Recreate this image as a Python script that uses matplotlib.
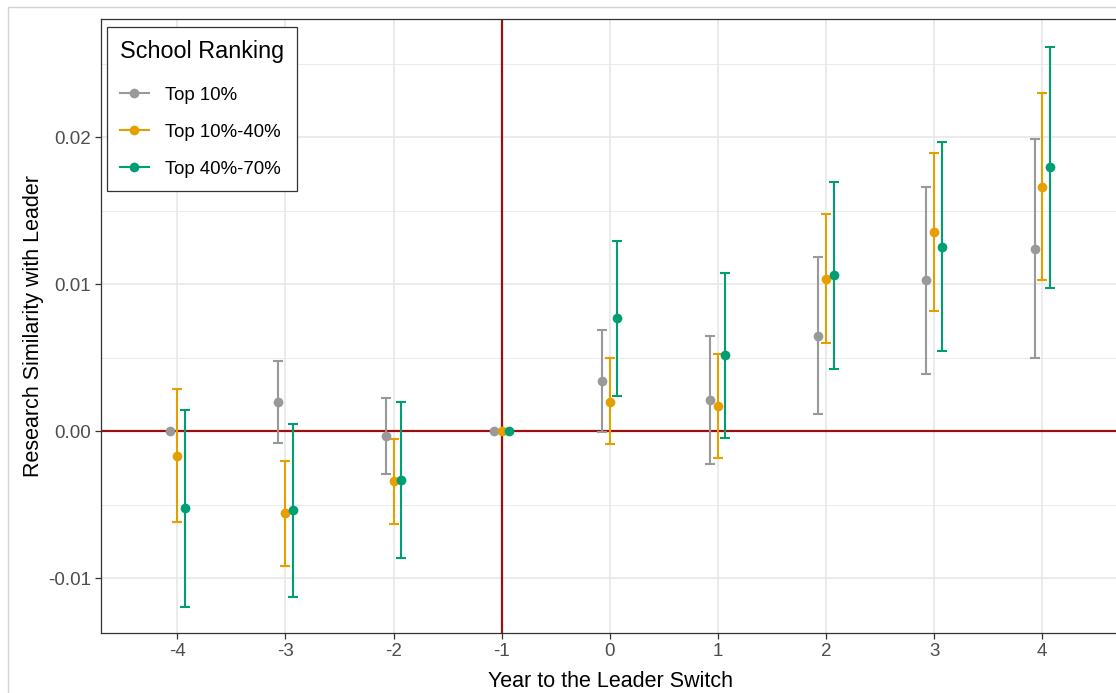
import matplotlib
matplotlib.use("Agg")
import matplotlib.pyplot as plt
from matplotlib.lines import Line2D
from matplotlib.patches import Rectangle
import numpy as np

plt.rcParams['font.family'] = ['Liberation Sans', 'DejaVu Sans']
plt.rcParams['axes.unicode_minus'] = False

years = [-4, -3, -2, -1, 0, 1, 2, 3, 4]
groups = ["Top 10%", "Top 10%-40%", "Top 40%-70%"]
colors = ["#999999", "#E69F00", "#009E73"]

est_top10 = [0.0, 0.00195, -0.00032, 0.0, 0.00338, 0.00209, 0.00648, 0.01025, 0.0124]
lo_top10 = [0.0, -0.00082, -0.0029, 0.0, -0.0001, -0.00227, 0.00113, 0.00388, 0.00494]
hi_top10 = [0.0, 0.00476, 0.00227, 0.0, 0.00687, 0.00646, 0.01186, 0.01662, 0.01988]

est_top40 = [-0.00168, -0.0056, -0.00342, 0.0, 0.0020, 0.0017, 0.01036, 0.01354, 0.01662]
lo_top40 = [-0.00619, -0.00916, -0.00633, 0.0, -0.00088, -0.00186, 0.0060, 0.00818, 0.01027]
hi_top40 = [0.00284, -0.00202, -0.00052, 0.0, 0.00494, 0.00526, 0.01476, 0.0189, 0.02297]

est_top70 = [-0.00526, -0.0054, -0.00333, 0.0, 0.00767, 0.00515, 0.01059, 0.01252, 0.01794]
lo_top70 = [-0.01197, -0.01129, -0.00862, 0.0, 0.0024, -0.00048, 0.00422, 0.00542, 0.00971]
hi_top70 = [0.00141, 0.0005, 0.00195, 0.0, 0.0129, 0.01075, 0.01696, 0.01966, 0.02614]

series = [(est_top10, lo_top10, hi_top10),
          (est_top40, lo_top40, hi_top40),
          (est_top70, lo_top70, hi_top70)]
offsets = [-0.07, 0.0, 0.07]

W, H = 1116, 693
fig = plt.figure(figsize=(W / 100, H / 100), dpi=100)
fig.patch.set_facecolor("white")
# light screenshot border
fig.add_artist(Rectangle((8 / W, -0.1), 1.2, 1 - 7 / H + 0.1, transform=fig.transFigure,
                         fill=False, edgecolor="#d4d4d4", lw=1.0))

ax = fig.add_axes([101 / W, (H - 633) / H, (1120 - 101) / W, (633 - 19) / H])
ax.set_facecolor("white")

ax.set_xlim(-4.706, 4.72)
ax.set_ylim(-0.01374, 0.02803)

# grid
ax.set_xticks(years)
ax.set_yticks([-0.01, 0.0, 0.01, 0.02])
ax.set_yticklabels(["-0.01", "0.00", "0.01", "0.02"])
ax.set_yticks([-0.005, 0.005, 0.015, 0.025], minor=True)
ax.grid(True, which="major", color="#E8E8E8", lw=1.2, zorder=0)
ax.grid(True, which="minor", axis="y", color="#EBEBEB", lw=0.7, zorder=0)
ax.set_axisbelow(True)

for (est, lo, hi), off, c in zip(series, offsets, colors):
    xs = np.array(years) + off
    est = np.array(est); lo = np.array(lo); hi = np.array(hi)
    mask = (hi - lo) > 0
    ax.errorbar(xs[mask], est[mask], yerr=[est[mask] - lo[mask], hi[mask] - est[mask]],
                fmt="none", ecolor=c, elinewidth=1.5, capsize=3.8, capthick=1.5, zorder=3)
    ax.plot(xs, est, "o", color=c, markersize=7.0, markeredgewidth=0, zorder=4)

ax.axhline(0, color="#9B0F0F", lw=1.6, zorder=2)
ax.axvline(-1, color="#9B0F0F", lw=1.6, zorder=2)

for s in ["left", "bottom", "top"]:
    ax.spines[s].set_color("#333333")
    ax.spines[s].set_linewidth(0.9)
ax.spines["right"].set_visible(False)

ax.tick_params(axis="both", which="major", length=4, width=0.9, color="#333333",
               labelsize=13.5, labelcolor="#4D4D4D", pad=3)
ax.tick_params(axis="both", which="minor", length=0)

ax.set_xlabel("Year to the Leader Switch", fontsize=15.5, color="black", labelpad=8)
ax.set_ylabel("Research Similarity with Leader", fontsize=15.5, color="black", labelpad=3)

handles = [Line2D([0], [0], color=c, marker="o", markersize=7.0, markeredgewidth=0, lw=1.5)
           for c in colors]
leg = ax.legend(handles, groups, title="School Ranking", loc="upper left",
                bbox_to_anchor=(107 / W, 1 - 27 / H), bbox_transform=fig.transFigure,
                borderaxespad=0, fancybox=False, framealpha=1, edgecolor="#333333",
                fontsize=13.4, title_fontsize=16.8, handlelength=1.55, handletextpad=0.85,
                labelspacing=1.07, borderpad=0.7, alignment="left")
leg.get_frame().set_linewidth(0.9)
leg._legend_box.sep = 17

fig.savefig("out.png", dpi=100, facecolor="white")
